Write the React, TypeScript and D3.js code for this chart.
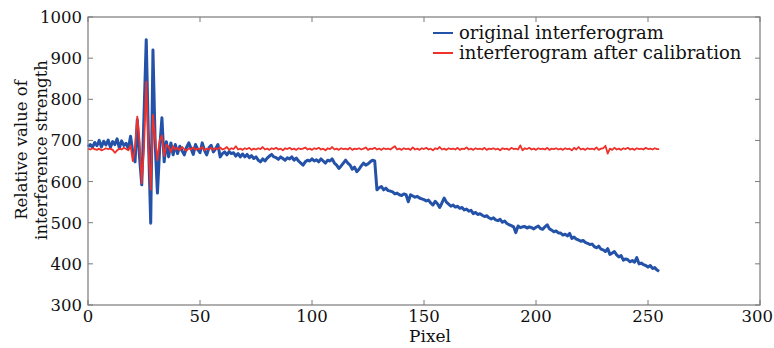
import React from "react";
import * as d3 from "d3";

const xTicks = [0, 50, 100, 150, 200, 250, 300];
const yTicks = [300, 400, 500, 600, 700, 800, 900, 1000];

const seriesNames = ["original interferogram", "interferogram after calibration"];
const seriesColors = ["#2352a8", "#f0302a"];

const original = [
  685, 690, 683, 695, 687, 700, 684, 698, 689, 701,
  683, 697, 690, 704, 681, 699, 688, 693, 680, 710,
  672, 648, 750, 660, 592, 760, 945, 700, 499, 920,
  690, 572, 680, 755, 648, 697, 660, 694, 665, 690,
  668, 686, 675, 665, 683, 694, 680, 666, 690, 678,
  670, 694, 676, 665, 682, 688, 672, 680, 690, 660,
  668, 672, 665, 673, 668, 670, 662, 668, 660, 667,
  660, 666, 658, 663, 656, 660, 652, 648, 655, 650,
  657, 662, 666, 660, 658, 654, 660, 656, 652, 658,
  655, 660, 652, 657, 650, 645, 640, 648, 652, 650,
  655, 650, 653, 648, 655, 650, 645, 652, 650, 655,
  645, 640, 632, 638, 645, 652, 645, 640, 630, 635,
  624, 630, 638, 645, 640, 643, 648, 652, 650, 580,
  585, 588, 580, 584, 578, 577, 575, 570, 572, 568,
  566, 570, 568, 551, 568, 565, 562, 564, 560, 558,
  556, 553, 555, 548, 543, 552, 546, 537, 548, 560,
  550, 545, 540, 543, 538, 540, 535, 537, 531, 533,
  528, 530, 522, 525, 520, 522, 518, 515, 517, 512,
  509, 512, 507, 505, 508, 501, 504, 498, 495, 493,
  490, 476, 492, 488, 490, 491, 487, 490, 488, 485,
  489, 492, 486, 484, 490, 495, 485, 482, 478, 480,
  475, 475, 470, 472, 468, 474, 462, 465, 460, 458,
  455, 457, 452, 450, 447, 448, 442, 439, 443, 436,
  434, 430, 437, 423, 426, 430, 422, 417, 420, 409,
  412, 410, 405, 408, 404, 415, 400, 402, 398, 396,
  392, 396, 389, 391, 385, 382,
];

const calibrated = [
  680, 678, 681, 679, 677, 680, 676, 678, 681, 679,
  680, 677, 670, 676, 680, 678, 682, 679, 676, 688,
  650, 680, 758, 700, 596, 680, 843, 680, 580, 762,
  705, 652, 700, 712, 662, 690, 685, 672, 686, 678,
  682, 676, 684, 679, 675, 681, 678, 683, 677, 680,
  679, 684, 676, 680, 678, 682, 677, 681, 679, 683,
  678, 680, 684, 677, 681, 679, 686, 678, 680, 677,
  681, 679, 682, 677, 680, 678, 681, 679, 684, 678,
  680, 677, 681, 679, 682, 678, 680, 676, 681, 679,
  682, 678, 680, 677, 681, 679, 680, 683, 678, 680,
  677, 681, 679, 682, 678, 680, 676, 681, 679, 684,
  678, 680, 677, 681, 679, 680, 678, 682, 677, 680,
  679, 681, 678, 680, 683, 677, 680, 679, 682, 678,
  680, 677, 681, 679, 680, 678, 682, 686, 678, 680,
  677, 681, 679, 680, 677, 683, 678, 680, 677, 681,
  679, 682, 678, 680, 676, 681, 679, 684, 678, 680,
  677, 681, 679, 680, 678, 682, 677, 680, 679, 683,
  678, 680, 677, 681, 679, 680, 678, 682, 677, 680,
  679, 681, 678, 680, 676, 681, 679, 680, 677, 682,
  679, 680, 678, 688, 676, 681, 679, 682, 678, 680,
  677, 681, 679, 680, 678, 682, 677, 680, 679, 681,
  678, 680, 677, 681, 679, 680, 676, 682, 678, 684,
  678, 680, 677, 681, 679, 680, 678, 683, 677, 680,
  681, 687, 668, 680, 677, 682, 678, 680, 677, 681,
  679, 682, 678, 680, 677, 681, 679, 680, 678, 682,
  679, 680, 678, 681, 679, 679,
];

const W = 774;
const H = 348;
const FONT = "'DejaVu Serif', serif";

export default function App() {
  const x = d3.scaleLinear().domain([0, 300]).range([88, 760]);
  const y = d3.scaleLinear().domain([300, 1000]).range([305, 17]);
  const line = d3
    .line<number>()
    .x((_, i) => x(i))
    .y((d) => y(d));

  const [x0, x1] = x.range();
  const [y0, y1] = y.range();
  const tickLen = 5;
  const axisColor = "#7a7a7a";

  return (
    <div style={{ position: "absolute", left: 0, top: 0 }}>
      <svg width={W} height={H} style={{ display: "block" }}>
        <rect x={0} y={0} width={W} height={H} fill="#fff" />
        <path d={line(original) || ""} fill="none" stroke={seriesColors[0]} strokeWidth={3} strokeLinejoin="round" />
        <path d={line(calibrated) || ""} fill="none" stroke={seriesColors[1]} strokeWidth={1.8} strokeLinejoin="round" />
        <rect x={x0} y={y1} width={x1 - x0} height={y0 - y1} fill="none" stroke={axisColor} strokeWidth={1.2} />
        {xTicks.map((t, i) => {
          const last = i === xTicks.length - 1;
          return (
            <g key={"xt" + t}>
              <line x1={x(t)} x2={x(t)} y1={y0} y2={y0 - tickLen} stroke={axisColor} />
              <line x1={x(t)} x2={x(t)} y1={y1} y2={y1 + tickLen} stroke={axisColor} />
              <text
                x={last ? W - 1 : x(t)}
                y={322}
                textAnchor={last ? "end" : "middle"}
                fontFamily={FONT}
                fontSize={16.5}
                fill="#111"
              >
                {t}
              </text>
            </g>
          );
        })}
        {yTicks.map((t) => (
          <g key={"yt" + t}>
            <line x1={x0} x2={x0 + tickLen} y1={y(t)} y2={y(t)} stroke={axisColor} />
            <line x1={x1} x2={x1 - tickLen} y1={y(t)} y2={y(t)} stroke={axisColor} />
            <text x={82} y={y(t)} dy="0.36em" textAnchor="end" fontFamily={FONT} fontSize={16.5} fill="#111">
              {t}
            </text>
          </g>
        ))}
        <text x={430} y={342} textAnchor="middle" fontFamily={FONT} fontSize={17} fill="#111">
          Pixel
        </text>
        <g transform={`translate(0, 150) rotate(-90)`}>
          <text x={0} y={27} textAnchor="middle" fontFamily={FONT} fontSize={16.5} fill="#111">
            Relative value of
          </text>
          <text x={0} y={47} textAnchor="middle" fontFamily={FONT} fontSize={16.5} fill="#111">
            interference strength
          </text>
        </g>
        {seriesNames.map((name, i) => (
          <g key={name}>
            <line x1={433} x2={453} y1={33 + i * 20} y2={33 + i * 20} stroke={seriesColors[i]} strokeWidth={2} />
            <text x={459} y={33 + i * 20} dy="0.35em" fontFamily={FONT} fontSize={18} fill="#111">
              {name}
            </text>
          </g>
        ))}
      </svg>
    </div>
  );
}
